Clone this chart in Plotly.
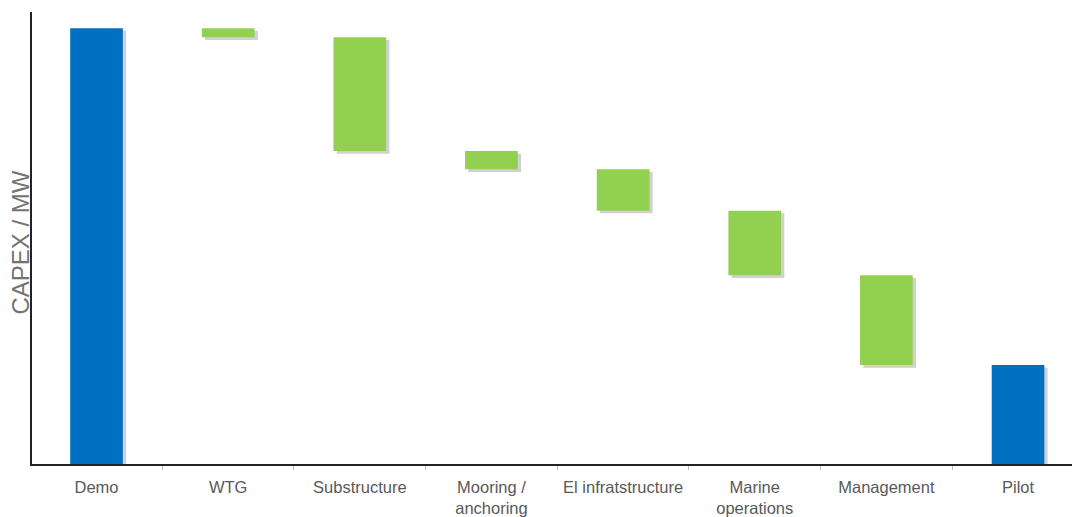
import plotly.graph_objects as go

# Cost bridge from demo to pilot stage (relative CAPEX / MW, demo = 100)
categories = ["Demo", "WTG", "Substructure", "Mooring /<br>anchoring",
              "El infratstructure", "Marine<br>operations", "Management", "Pilot"]
measures = ["absolute", "relative", "relative", "relative",
            "relative", "relative", "relative", "total"]
values = [100.0, -2.1, -26.1, -4.2, -9.5, -14.8, -20.6, 0]
y_title = "CAPEX / MW"

BLUE = "#0070C0"
GREEN = "#92D050"

fig = go.Figure()

# soft drop shadow behind the bars
fig.add_trace(go.Waterfall(
    x=categories, y=values, measure=measures,
    base=-0.6, width=0.4, offset=-0.2 + 0.025,
    decreasing=dict(marker=dict(color="rgba(90,90,90,0.28)")),
    increasing=dict(marker=dict(color="rgba(90,90,90,0.28)")),
    totals=dict(marker=dict(color="rgba(90,90,90,0.28)")),
    connector=dict(visible=False), hoverinfo="skip", showlegend=False,
))

fig.add_trace(go.Waterfall(
    x=categories, y=values, measure=measures,
    width=0.4, offset=-0.2,
    decreasing=dict(marker=dict(color=GREEN)),
    increasing=dict(marker=dict(color=GREEN)),
    totals=dict(marker=dict(color=BLUE)),
    connector=dict(visible=False), showlegend=False,
))

fig.update_layout(
    width=1072, height=517,
    margin=dict(l=32, r=0, t=12, b=51),
    paper_bgcolor="white", plot_bgcolor="white",
    font=dict(family="Liberation Sans, Arial, sans-serif", color="#595959"),
    bargap=0,
    xaxis=dict(
        type="category", range=[-0.49, 7.41],
        showline=True, linecolor="#222222", linewidth=2,
        ticks="outside", tickson="boundaries", ticklen=4, tickcolor="#bfbfbf",
        tickfont=dict(size=16.5, color="#595959"),
        ticklabelstandoff=7,
        showgrid=False, zeroline=False,
    ),
    yaxis=dict(
        range=[0, 103.7],
        showline=True, linecolor="#222222", linewidth=2,
        showticklabels=False, ticks="", showgrid=False, zeroline=False,
    ),
    annotations=[dict(
        text=y_title, textangle=-90, showarrow=False,
        xref="paper", yref="paper", x=-0.0115, y=0.49,
        xanchor="center", yanchor="middle",
        font=dict(size=24, color="#737373"),
    )],
)

fig.write_html("out.html")
